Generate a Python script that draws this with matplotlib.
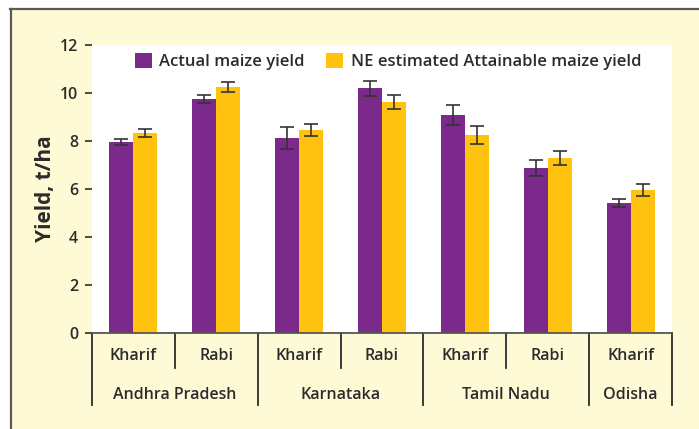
import matplotlib.pyplot as plt
from matplotlib.patches import Rectangle
from matplotlib.lines import Line2D
import numpy as np

plt.rcParams['font.family'] = ['Open Sans', 'DejaVu Sans']

# Yield data (t/ha) with standard errors
seasons = ['Kharif', 'Rabi', 'Kharif', 'Rabi', 'Kharif', 'Rabi', 'Kharif']
states = ['Andhra Pradesh', 'Karnataka', 'Tamil Nadu', 'Odisha']
state_spans = [(0, 1), (2, 3), (4, 5), (6, 6)]
actual = [7.96, 9.75, 8.13, 10.2, 9.08, 6.88, 5.42]
actual_err = [0.13, 0.17, 0.45, 0.31, 0.40, 0.32, 0.15]
attainable = [8.33, 10.25, 8.46, 9.63, 8.25, 7.29, 5.96]
attainable_err = [0.17, 0.20, 0.26, 0.28, 0.37, 0.30, 0.24]

purple = '#7B2A8C'
yellow = '#FFC20F'
cream = '#FFFAD6'
dark = '#2B2B2B'

fig = plt.figure(figsize=(6.99, 4.29), dpi=100)
fig.patch.set_facecolor('white')

# cream panel with a gray frame on the top and left edges
W, H = 699, 429
fig.add_artist(Rectangle((10 / W, 0), 1, 1 - 9 / H, transform=fig.transFigure,
                         facecolor=cream, edgecolor='none', zorder=0))
fig.add_artist(Line2D([10 / W, 1], [1 - 9 / H, 1 - 9 / H], transform=fig.transFigure,
                      color='#5a5a5a', lw=1.6))
fig.add_artist(Line2D([11 / W, 11 / W], [0, 1 - 9 / H], transform=fig.transFigure,
                      color='#5a5a5a', lw=1.6))

ax = fig.add_axes([92 / W, 1 - 333 / H, 580 / W, 288 / H])
ax.set_facecolor('white')

x = np.arange(len(seasons))
w = 0.29
err_kw = dict(ecolor='#333333', elinewidth=1.2, capsize=5, capthick=1.2)
ax.bar(x - w / 2, actual, w, yerr=actual_err, color=purple,
       label='Actual maize yield', error_kw=err_kw)
ax.bar(x + w / 2, attainable, w, yerr=attainable_err, color=yellow,
       label='NE estimated Attainable maize yield', error_kw=err_kw)

ax.set_xlim(-0.5, len(seasons) - 0.5)
ax.set_ylim(0, 12)
ax.set_yticks(range(0, 13, 2))
ax.tick_params(axis='y', length=5, width=1.2, color=dark, labelsize=11.5,
               labelcolor=dark, pad=5)
for lab in ax.get_yticklabels():
    lab.set_fontweight('semibold')
ax.set_xticks([])
for s in ['left', 'right', 'top']:
    ax.spines[s].set_visible(False)
ax.spines['bottom'].set_color('#555555')
ax.spines['bottom'].set_linewidth(1.3)

ax.set_ylabel('Yield, t/ha', fontsize=15, fontweight='bold', color=dark, labelpad=3)

# two-level category axis below the bars
tr = ax.get_xaxis_transform()
for i, s in enumerate(seasons):
    ax.text(i, -0.08, s, transform=tr, ha='center', va='center',
            fontsize=11.5, fontweight='semibold', color=dark)
for name, (a, b) in zip(states, state_spans):
    ax.text((a + b) / 2, -0.215, name, transform=tr, ha='center', va='center',
            fontsize=11.5, fontweight='semibold', color=dark)
    if b > a:
        ax.plot([a + 0.5, a + 0.5], [0, -0.122], transform=tr, color=dark,
                lw=1.3, clip_on=False)
edges = [-0.5] + [b + 0.5 for _, b in state_spans]
for e in edges:
    ax.plot([e, e], [0, -0.25], transform=tr, color=dark, lw=1.3, clip_on=False)

leg = ax.legend(loc='upper left', bbox_to_anchor=(0.06, 1.0), ncol=2, frameon=False,
                fontsize=12, handlelength=1.0, handleheight=1.0, handletextpad=0.45,
                columnspacing=1.3, borderaxespad=0.1)
for t in leg.get_texts():
    t.set_fontweight('semibold')
    t.set_color(dark)

fig.savefig('out.png', dpi=100, facecolor=fig.get_facecolor())
